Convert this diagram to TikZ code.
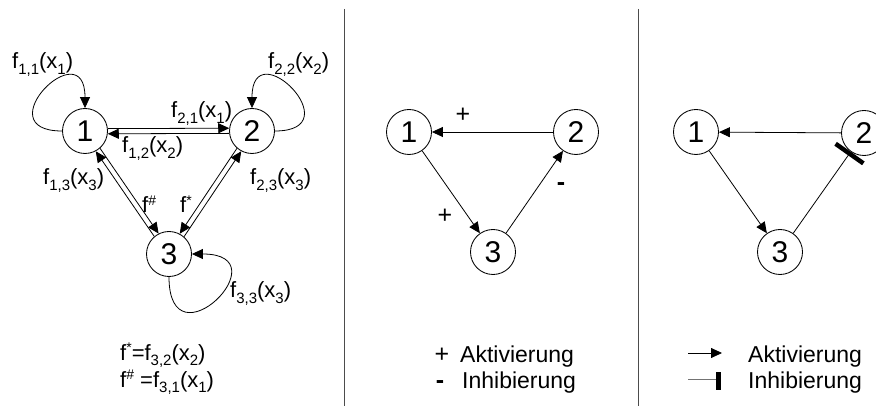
\documentclass[tikz,border=0pt]{standalone}
\usepackage{fontspec}
\setmainfont{Liberation Sans}
\usetikzlibrary{arrows.meta,calc}
\newcommand\lsub[1]{\raisebox{-5.5pt}{\fontsize{15}{15}\selectfont #1}}
\newcommand\lsup[1]{\raisebox{7.5pt}{\fontsize{14}{14}\selectfont #1}}
\begin{document}
\begin{tikzpicture}[x=1pt,y=-1pt,
  font=\fontsize{22}{26}\selectfont,
  state/.style={circle,draw,line width=0.85pt,minimum size=45pt,inner sep=0pt,font=\fontsize{30}{30}\selectfont},
  conn/.style={line width=0.8pt,-{Triangle[length=11pt,width=10pt]}},
  inhib/.style={line width=0.8pt,-{Bar[width=34pt,line width=4.5pt]}},
  lbl/.style={anchor=base west,inner sep=0pt},
  sign/.style={anchor=base,inner sep=0pt,font=\fontsize{25}{28}\selectfont},
  legtext/.style={anchor=base west,inner sep=0pt,font=\fontsize{23}{26}\selectfont},
  sep/.style={draw=black!70,line width=1.2pt}]
\useasboundingbox (0,0) rectangle (876,406);

% separators
\coordinate (s1a) at (344.7,9); \coordinate (s1b) at (344.7,406);
\coordinate (s2a) at (638.7,9); \coordinate (s2b) at (638.7,406);
\draw[sep] (s1a) -- (s1b);
\draw[sep] (s2a) -- (s2b);

% ---------- left panel ----------
\node[state] (n1) at (85,131) {1};
\node[state] (n2) at (252,131) {2};
\node[state] (n3) at (169,254) {3};

\draw[conn] (n1.6.5) -- (n2.173.5);
\draw[conn] (n2.186.5) -- (n1.353.5);

\draw[conn] (n3.130.8) -- (n1.-62.2);
\draw[conn] (n1.-49.2) -- (n3.117.8);

\draw[conn] (n2.229.5) -- (n3.62.5);
\draw[conn] (n3.49.5) -- (n2.242.5);

\draw[conn] (n1.west) .. controls +(-78,0) and +(0,-78) .. (n1.north);
\draw[conn] (n2.east) .. controls +(78,0) and +(0,-78) .. (n2.north);
\draw[conn] (n3.south) .. controls +(0,92) and +(92,0) .. (n3.east);

\node[lbl] (l11) at (12,69) {f\lsub{1,1}(x\lsub{1})};
\node[lbl] (l22) at (268,69) {f\lsub{2,2}(x\lsub{2})};
\node[lbl] (l21) at (171,118) {f\lsub{2,1}(x\lsub{1})};
\node[lbl] (l12) at (122,153) {f\lsub{1,2}(x\lsub{2})};
\node[lbl] (l13) at (43,185) {f\lsub{1,3}(x\lsub{3})};
\node[lbl] (l23) at (250,185) {f\lsub{2,3}(x\lsub{3})};
\node[lbl] (lh) at (142,213) {f\lsup{\#}};
\node[lbl] (ls) at (180,213) {f\lsup{*}};
\node[lbl] (l33) at (230,298) {f\lsub{3,3}(x\lsub{3})};
\node[lbl] (eq1) at (120,360) {f\lsup{*}=f\lsub{3,2}(x\lsub{2})};
\node[lbl] (eq2) at (120,387) {f\lsup{\#} =f\lsub{3,1}(x\lsub{1})};

% ---------- middle panel ----------
\node[state] (m1) at (409,132) {1};
\node[state] (m2) at (576,132) {2};
\node[state] (m3) at (493,252) {3};
\draw[conn] (m2) -- (m1);
\draw[conn] (m1) -- (m3);
\draw[conn] (m3) -- (m2);
\node[sign] (p1) at (463,123) {+};
\node[sign] (p2) at (445,224) {+};
\node[sign] (p3) at (561,191) {\textbf{-}};

\node[sign] (lp) at (442,362) {+};
\node[legtext] (la) at (460,362) {Aktivierung};
\node[sign] (lm) at (440,388) {\textbf{-}};
\node[legtext] (li) at (462,388) {Inhibierung};

% ---------- right panel ----------
\node[state] (r1) at (696,132) {1};
\node[state] (r2) at (864,133) {2};
\node[state] (r3) at (780,252) {3};
\draw[conn] (r2) -- (r1);
\draw[conn] (r1) -- (r3);
\draw[inhib] (r3) -- (r2);

\coordinate (ra1) at (688,353); \coordinate (ra2) at (722,353);
\draw[conn] (ra1) -- (ra2);
\coordinate (ri1) at (688,379); \coordinate (ri2) at (716,379);
\draw[line width=0.8pt,black!55] (ri1) -- (ri2);
\coordinate (rb1) at (718.5,372); \coordinate (rb2) at (718.5,390);
\draw[line width=5pt] (rb1) -- (rb2);
\node[legtext] (ra) at (748,362) {Aktivierung};
\node[legtext] (ri) at (748,388) {Inhibierung};
\end{tikzpicture}
\end{document}
